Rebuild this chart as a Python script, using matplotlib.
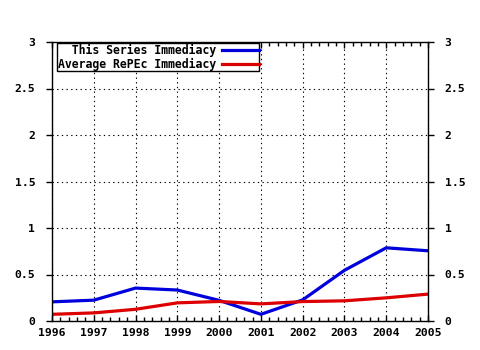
import matplotlib
matplotlib.use("Agg")
import matplotlib.pyplot as plt
from matplotlib.ticker import MultipleLocator, FuncFormatter

years = [1996, 1997, 1998, 1999, 2000, 2001, 2002, 2003, 2004, 2005]
series_immediacy = [0.206, 0.224, 0.354, 0.333, 0.222, 0.072, 0.227, 0.545, 0.787, 0.755]
repec_immediacy = [0.072, 0.087, 0.126, 0.195, 0.210, 0.184, 0.209, 0.217, 0.249, 0.289]
labels = ["This Series Immediacy", "Average RePEc Immediacy"]

plt.rcParams['font.family'] = ['DejaVu Sans Mono']
plt.rcParams['font.weight'] = 'bold'

w = max(len(s) for s in labels)
padded = [s.rjust(w) for s in labels]

fig = plt.figure(figsize=(4.8, 3.5), dpi=100)
ax = fig.add_axes([52/480, 29/350, 376/480, 279/350])

ax.plot(years, series_immediacy, color='#0000dd', lw=2.3, label=padded[0])
ax.plot(years, repec_immediacy, color='#dd0000', lw=2.3, label=padded[1])

ax.set_xlim(1996, 2005)
ax.set_ylim(0, 3)
ax.xaxis.set_major_locator(MultipleLocator(1))
ax.xaxis.set_minor_locator(MultipleLocator(0.2))
ax.yaxis.set_major_locator(MultipleLocator(0.5))
ax.yaxis.set_major_formatter(FuncFormatter(lambda v, p: f"{v:g}"))
ax.grid(True, which='major', color='black', linestyle=(0, (1.2, 3.0)), linewidth=0.8)

for s in ax.spines.values():
    s.set_linewidth(1.0)
    s.set_color('black')

ax.tick_params(axis='x', which='both', direction='in', top=True, bottom=True,
               labelsize=8.2, pad=5, width=1)
ax.tick_params(axis='x', which='major', length=4)
ax.tick_params(axis='x', which='minor', length=3)
ax.tick_params(axis='y', which='major', direction='out', left=True, right=True,
               labelleft=True, labelright=True, length=4, width=1, labelsize=8.2, pad=8)

leg = ax.legend(loc='upper left', bbox_to_anchor=(0.014, 0.995), markerfirst=False,
                fontsize=8.3, frameon=True, fancybox=False, edgecolor='black',
                framealpha=1, borderpad=0.05, labelspacing=0.05, handlelength=3.2,
                handletextpad=0.5, borderaxespad=0.0)
leg.get_frame().set_linewidth(1.0)

fig.savefig("out.png", dpi=100)
